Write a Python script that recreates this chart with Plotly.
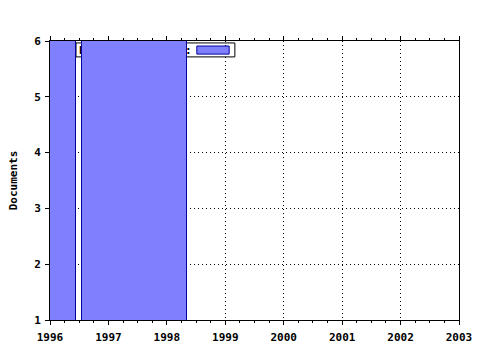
import plotly.graph_objects as go

# Data (bars are clipped at the top of the axis; heights exceed 6)
bar_starts = [1996.0, 1996.548]
bar_ends = [1996.445, 1998.345]
doc_counts = [8, 9]
legend_label = "by year of issue:"
x_ticks = [1996, 1997, 1998, 1999, 2000, 2001, 2002, 2003]
y_ticks = [1, 2, 3, 4, 5, 6]

centers = [(a + b) / 2 for a, b in zip(bar_starts, bar_ends)]
widths = [b - a for a, b in zip(bar_starts, bar_ends)]

FONT = dict(family="DejaVu Sans Mono", size=11, color="black", weight="bold")

fig = go.Figure()
fig.add_trace(go.Bar(
    x=centers, y=doc_counts, width=widths, base=0,
    marker=dict(color="#8080FF", line=dict(color="#0000A0", width=1)),
    showlegend=False,
))

# legend box (drawn below the bars, as in the reference)
fig.add_shape(type="rect", xref="paper", yref="paper",
              x0=0.0636, x1=0.452, y0=0.943, y1=0.993,
              fillcolor="white", line=dict(color="black", width=1), layer="below",
              label=dict(text=legend_label, textposition="middle left", padding=0, font=FONT))
fig.add_shape(type="rect", xref="paper", yref="paper",
              x0=0.359, x1=0.438, y0=0.953, y1=0.982,
              fillcolor="#8080FF", line=dict(color="#0000A0", width=1), layer="above")

fig.update_layout(
    width=480, height=350,
    margin=dict(l=50, r=21, t=41, b=30, autoexpand=False),
    paper_bgcolor="white", plot_bgcolor="white",
    font=FONT,
    bargap=0,
)
fig.update_xaxes(
    range=[1996, 2003], tickvals=x_ticks, ticktext=[str(v) for v in x_ticks],
    showline=True, linecolor="black", linewidth=1, mirror="ticks",
    ticks="outside", ticklen=4, tickcolor="black", ticklabelstandoff=3,
    showgrid=True, gridcolor="black", griddash="1px,3px", gridwidth=1,
    minor=dict(dtick=0.25, tick0=1996, ticks="outside", ticklen=2, tickcolor="black", showgrid=False),
    zeroline=False, tickfont=FONT, automargin=False,
)
fig.update_yaxes(
    range=[1, 6], tickvals=y_ticks,
    showline=True, linecolor="black", linewidth=1, mirror=True,
    ticks="outside", ticklen=4, tickcolor="black", ticklabelstandoff=2,
    showgrid=True, gridcolor="black", griddash="1px,3px", gridwidth=1,
    zeroline=False, tickfont=FONT, automargin=False,
    title=dict(text="Documents", font=FONT, standoff=14),
)

fig.write_html("out.html")
